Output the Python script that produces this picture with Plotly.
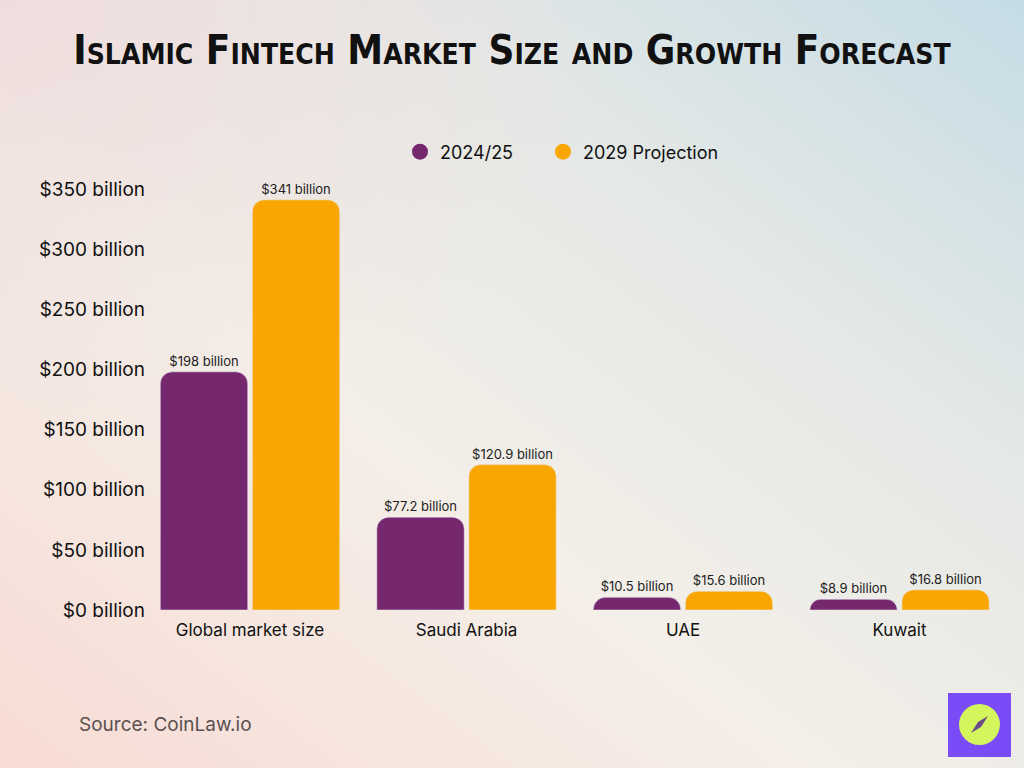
import plotly.graph_objects as go
import base64

categories = ["Global market size", "Saudi Arabia", "UAE", "Kuwait"]
series_names = ["2024/25", "2029 Projection"]
values_2024 = [198, 77.2, 10.5, 8.9]
values_2029 = [341, 120.9, 15.6, 16.8]
labels_2024 = ["$198 billion", "$77.2 billion", "$10.5 billion", "$8.9 billion"]
labels_2029 = ["$341 billion", "$120.9 billion", "$15.6 billion", "$16.8 billion"]
tick_vals = [0, 50, 100, 150, 200, 250, 300, 350]
tick_text = ["$0 billion", "$50 billion", "$100 billion", "$150 billion",
             "$200 billion", "$250 billion", "$300 billion", "$350 billion"]

PURPLE = "#76286f"
ORANGE = "#f9a603"
FONT = "Inter"

svg = """<svg xmlns='http://www.w3.org/2000/svg' width='1024' height='768'>
<defs>
<linearGradient id='g' x1='0' y1='1' x2='1' y2='0'>
<stop offset='0' stop-color='#f8dcd5'/>
<stop offset='0.4' stop-color='#f4efe8'/>
<stop offset='0.7' stop-color='#e4e8e6'/>
<stop offset='1' stop-color='#c5dce6'/>
</linearGradient>
<radialGradient id='h' cx='0' cy='0' r='0.6'>
<stop offset='0' stop-color='#efdcdc' stop-opacity='0.9'/>
<stop offset='1' stop-color='#efdcdc' stop-opacity='0'/>
</radialGradient>
</defs>
<rect width='1024' height='768' fill='url(#g)'/>
<rect width='1024' height='768' fill='url(#h)'/>
</svg>"""
bg_uri = "data:image/svg+xml;base64," + base64.b64encode(svg.encode()).decode()

x_idx = list(range(len(categories)))

fig = go.Figure()
fig.add_trace(go.Bar(
    x=x_idx, y=values_2024, name=series_names[0], marker=dict(color=PURPLE, cornerradius=12),
    text=labels_2024, textposition="outside", textfont=dict(family=FONT, size=13, color="#222"),
    cliponaxis=False, showlegend=False))
fig.add_trace(go.Bar(
    x=x_idx, y=values_2029, name=series_names[1], marker=dict(color=ORANGE, cornerradius=12),
    text=labels_2029, textposition="outside", textfont=dict(family=FONT, size=13, color="#222"),
    cliponaxis=False, showlegend=False))
for nm, col, lg in zip(series_names, [PURPLE, ORANGE], ["legend", "legend2"]):
    fig.add_trace(go.Scatter(x=[None], y=[None], mode="markers", name=nm, legend=lg,
                             marker=dict(color=col, size=20, symbol="circle")))

W_PLOT = 1024 - 150 - 16
H_PLOT = 768 - 177 - 158

def px(xp):
    return (xp - 150) / W_PLOT
def py(yp):
    return (610 - yp) / H_PLOT

leg_common = dict(orientation="h", y=py(152), yanchor="middle", xanchor="left",
                  font=dict(family=FONT, size=18, color="#111"), itemwidth=30,
                  bgcolor="rgba(0,0,0,0)")

fig.update_layout(
    width=1024, height=768,
    margin=dict(l=150, r=16, t=177, b=158),
    paper_bgcolor="rgba(0,0,0,0)", plot_bgcolor="rgba(0,0,0,0)",
    barmode="group", bargap=0.15, bargroupgap=0.05,
    font=dict(family=FONT, color="#111"),
    title=dict(text="Islamic Fintech Market Size and Growth Forecast",
               x=0.5, xanchor="center", y=0.935, yanchor="middle",
               font=dict(family="DejaVu Sans Condensed", size=40, weight="bold",
                         variant="small-caps", color="#111")),
    legend=dict(x=px(400), **leg_common),
    legend2=dict(x=px(543), **leg_common),
    xaxis=dict(tickmode="array", tickvals=x_idx, ticktext=categories,
               range=[-0.462, 3.501], showgrid=False, zeroline=False, showline=False,
               ticks="", ticklabelstandoff=8, tickfont=dict(family=FONT, size=17, color="#111")),
    yaxis=dict(tickmode="array", tickvals=tick_vals, ticktext=tick_text,
               range=[0, 360], showgrid=False, zeroline=False, showline=False,
               ticks="", ticklabelstandoff=4, tickfont=dict(family=FONT, size=19, color="#111")),
    images=[dict(source=bg_uri, xref="paper", yref="paper",
                 x=-150 / W_PLOT, y=1 + 177 / H_PLOT, sizex=1024 / W_PLOT, sizey=768 / H_PLOT,
                 xanchor="left", yanchor="top", sizing="stretch", layer="below")],
)

fig.add_annotation(text="Source: CoinLaw.io", xref="paper", yref="paper",
                   x=px(77), y=py(724), xanchor="left", yanchor="middle",
                   showarrow=False, font=dict(family=FONT, size=19, color="#5a5050"))

# logo
fig.add_shape(type="rect", xref="paper", yref="paper", x0=px(948), x1=px(1011), y0=py(757), y1=py(693),
              fillcolor="#7a4cf7", line=dict(width=0), layer="above")
fig.add_shape(type="circle", xref="paper", yref="paper", x0=px(959), x1=px(1000), y0=py(745), y1=py(704),
              fillcolor="#d5f55c", line=dict(width=0), layer="above")
fig.add_shape(type="path", xref="paper", yref="paper",
              path=f"M {px(988)} {py(716)} L {px(978)} {py(722)} L {px(971)} {py(733)} L {px(981)} {py(727)} Z",
              fillcolor="#6a4b8a", line=dict(width=0), layer="above")

fig.write_html("out.html")
